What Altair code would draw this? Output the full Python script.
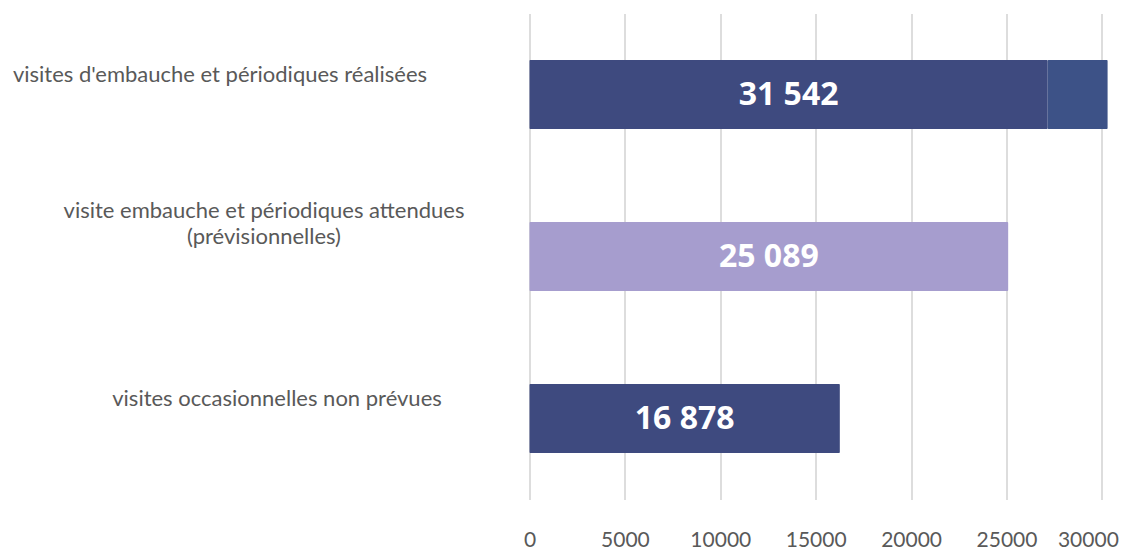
import altair as alt
import pandas as pd

categories = [
    "visites d'embauche et périodiques réalisées",
    "visite embauche et périodiques attendues (prévisionnelles)",
    "visites occasionnelles non prévues",
]
seg_category = [categories[0], categories[0], categories[1], categories[2]]
seg_values = [27160, 3140, 25089, 16265]
seg_colors = ["#3E4A7F", "#3D5287", "#A69DCE", "#3E4A7F"]
label_texts = ["31 542", "25 089", "16 878"]
x_ticks = [0, 5000, 10000, 15000, 20000, 25000, 30000]

bars = pd.DataFrame({"cat": seg_category, "value": seg_values, "color": seg_colors})
bars["end"] = bars.groupby("cat")["value"].cumsum()
bars["start"] = bars["end"] - bars["value"]
first = bars.groupby("cat", sort=False).first().reset_index()
labels = pd.DataFrame({"cat": categories, "text": label_texts})
labels = labels.merge(first[["cat", "value"]], on="cat")
labels["mid"] = labels["value"] / 2

label_split = ("indexof(datum.label, ' (') > 0 ? "
               "[substring(datum.label, 0, indexof(datum.label, ' (')), "
               "substring(datum.label, indexof(datum.label, ' (') + 1)] : datum.label")

y_pad = {
    "condition": [
        {"test": 'datum.value === "%s"' % categories[0], "value": 310},
        {"test": 'datum.value === "%s"' % categories[1], "value": 266},
    ],
    "value": 253,
}
y_off = {
    "condition": [
        {"test": 'datum.value === "%s"' % categories[1], "value": -34},
    ],
    "value": -8,
}
x_off = {
    "condition": [{"test": "datum.value === %d" % x_ticks[-1], "value": -14}],
    "value": 0,
}

y_enc = alt.Y(
    "cat:N",
    sort=categories,
    scale=alt.Scale(paddingInner=0.574, paddingOuter=0.287),
    axis=alt.Axis(
        title=None, domain=False, ticks=False, tickSize=0, grid=False,
        labelAlign="center", labelBaseline="bottom", labelOffset=y_off,
        labelPadding=y_pad, labelFont="Lato", labelFontSize=22,
        labelColor="#595959", labelLimit=600, labelLineHeight=26,
        labelExpr=label_split,
    ),
)
x_scale = alt.Scale(domain=[0, 30400], nice=False)

bar_layer = alt.Chart(bars).mark_bar(cornerRadius=1).encode(
    y=y_enc,
    x=alt.X(
        "start:Q", scale=x_scale,
        axis=alt.Axis(
            title=None, values=x_ticks, format="d", domain=False, ticks=False,
            tickSize=0, grid=True, gridColor="#DDDDDD", gridWidth=2,
            labelFont="Lato", labelFontSize=21, labelColor="#595959",
            labelPadding=30, labelFlush=False, labelOffset=x_off,
        ),
    ),
    x2="end:Q",
    color=alt.Color("color:N", scale=None),
)

text_layer = alt.Chart(labels).mark_text(
    font="Open Sans", fontWeight="bold", fontSize=32, color="white",
    align="center", baseline="middle",
).encode(
    y=alt.Y("cat:N", sort=categories),
    x=alt.X("mid:Q", scale=x_scale),
    text="text:N",
)

chart = alt.layer(bar_layer, text_layer).properties(
    width=580, height=486,
    autosize=alt.AutoSizeParams(type="none"),
    padding={"left": 521.5, "top": 5.5, "right": 11, "bottom": 52},
).configure_view(stroke=None)

chart.save("out.html", embed_options={"renderer": "svg", "actions": False})
